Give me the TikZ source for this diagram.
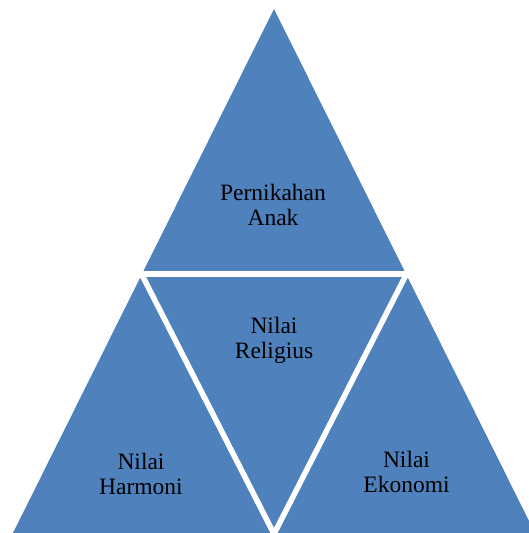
\documentclass[tikz,border=0pt]{standalone}
\usepackage{fontspec}
\setmainfont{Liberation Serif}
\usetikzlibrary{calc}
\definecolor{triblue}{HTML}{4F81BD}
\begin{document}
\begin{tikzpicture}[x=1pt,y=-1pt,
  lbl/.style={align=center,font=\fontsize{23.5}{25}\selectfont,text=black,inner sep=0pt},
  gap/.style={draw=white,line width=5.5pt}]
\useasboundingbox (0,0) rectangle (529,533);
\begin{scope}
\clip (0,0) rectangle (529,533);
\coordinate (apex) at (274,9);
\coordinate (bl) at (7,545);
\coordinate (br) at (541,545);
\fill[triblue] (apex) -- (bl) -- (br) -- cycle;
\coordinate (ml) at (141.5,274);
\coordinate (mr) at (406.5,274);
\coordinate (bot) at (274,534);
\draw[gap] ($(ml)+(-20,0)$) -- ($(mr)+(20,0)$);
\draw[gap] ($(ml)!-0.1!(bot)$) -- ($(ml)!1.1!(bot)$);
\draw[gap] ($(mr)!-0.1!(bot)$) -- ($(mr)!1.1!(bot)$);
\end{scope}
\node[lbl] (t1) at (273,205) {Pernikahan\\Anak};
\node[lbl] (t2) at (274,340) {Nilai\\Religius};
\node[lbl] (t3) at (141,474) {Nilai\\Harmoni};
\node[lbl] (t4) at (406.5,472) {Nilai\\Ekonomi};
\end{tikzpicture}
\end{document}
